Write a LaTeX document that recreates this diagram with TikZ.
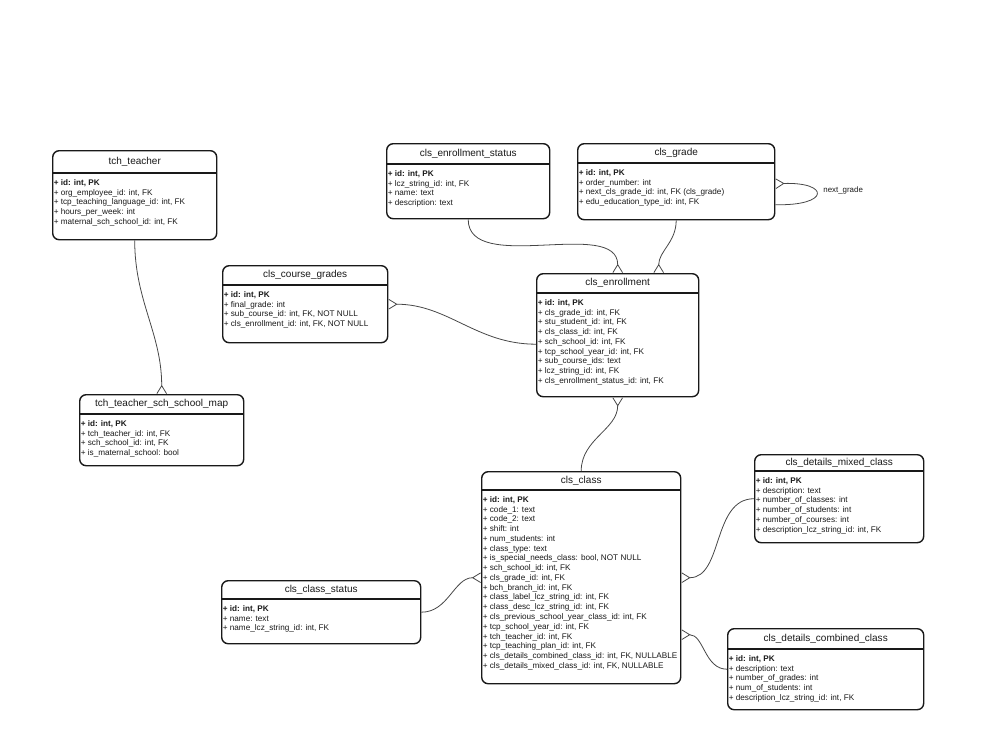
\documentclass[tikz,border=0pt]{standalone}
\usepackage{fontspec}
\setmainfont{Liberation Sans}
\usepackage{tikz}
\usetikzlibrary{calc,arrows.meta}
\definecolor{erink}{RGB}{25,25,25}
\definecolor{relgray}{RGB}{70,70,70}

% name, left, top, width, height, header height, title, rows
\newcommand{\erentity}[8]{%
  \node[entity, minimum width=#4*0.02cm, minimum height=#5*0.02cm] (#1) at (#2,#3) {};
  \draw[sepline] ($(#1.north west)+(0,#6)$) -- ($(#1.north east)+(0,#6)$);
  \node[enttitle] (#1-title) at ($(#1.north)+(0,#6/2)$) {#7};
  \node[entrows] (#1-rows) at ($(#1.north west)+(1.5,#6+6)$) {#8};
}

\begin{document}
\begin{tikzpicture}[x=0.02cm, y=-0.02cm,
    entity/.style={draw=erink, line width=0.8pt, rounded corners=0.13cm,
                   anchor=north west, inner sep=0pt},
    sepline/.style={draw=erink, line width=0.6pt},
    enttitle/.style={font=\fontsize{5.7}{6.8}\selectfont, text=erink, inner sep=0pt},
    entrows/.style={font=\fontsize{4.65}{5.56}\selectfont, text=erink, align=left,
                    anchor=north west, inner sep=0pt},
    rel/.style={draw=relgray, line width=0.45pt},
    crow/.style={-{Straight Barb[reversed, length=4.5pt, width=5.5pt]}},
    crowstart/.style={{Straight Barb[reversed, length=4.5pt, width=5.5pt]}-}]
  \fill[white] (0,0) rectangle (1000,750);
  % teacher side
  \erentity{teacher}{52}{150}{164}{89}{23}{tch\_teacher}
    {\textbf{+ id: int, PK}\\+ org\_employee\_id: int, FK\\+ tcp\_teaching\_language\_id: int, FK\\
     + hours\_per\_week: int\\+ maternal\_sch\_school\_id: int, FK}
  \erentity{map}{79}{394}{164}{71}{20}{tch\_teacher\_sch\_school\_map}
    {\textbf{+ id: int, PK}\\+ tch\_teacher\_id: int, FK\\+ sch\_school\_id: int, FK\\
     + is\_maternal\_school: bool}
  % enrollment
  \erentity{enrstatus}{386}{143}{163}{75}{21}{cls\_enrollment\_status}
    {\textbf{+ id: int, PK}\\+ lcz\_string\_id: int, FK\\+ name: text\\+ description: text}
  \erentity{grade}{577}{143}{197}{76}{20}{cls\_grade}
    {\textbf{+ id: int, PK}\\+ order\_number: int\\+ next\_cls\_grade\_id: int, FK (cls\_grade)\\
     + edu\_education\_type\_id: int, FK}
  \erentity{course}{222}{265}{165}{77}{20}{cls\_course\_grades}
    {\textbf{+ id: int, PK}\\+ final\_grade: int\\+ sub\_course\_id: int, FK, NOT NULL\\
     + cls\_enrollment\_id: int, FK, NOT NULL}
  \erentity{enrollment}{536}{273}{162}{123}{20}{cls\_enrollment}
    {\textbf{+ id: int, PK}\\+ cls\_grade\_id: int, FK\\+ stu\_student\_id: int, FK\\
     + cls\_class\_id: int, FK\\+ sch\_school\_id: int, FK\\+ tcp\_school\_year\_id: int, FK\\
     + sub\_course\_ids: text\\+ lcz\_string\_id: int, FK\\+ cls\_enrollment\_status\_id: int, FK}
  % class
  \erentity{class}{481}{471}{199}{212}{19}{cls\_class}
    {\textbf{+ id: int, PK}\\+ code\_1: text\\+ code\_2: text\\+ shift: int\\+ num\_students: int\\
     + class\_type: text\\+ is\_special\_needs\_class: bool, NOT NULL\\+ sch\_school\_id: int, FK\\
     + cls\_grade\_id: int, FK\\+ bch\_branch\_id: int, FK\\+ class\_label\_lcz\_string\_id: int, FK\\
     + class\_desc\_lcz\_string\_id: int, FK\\+ cls\_previous\_school\_year\_class\_id: int, FK\\
     + tcp\_school\_year\_id: int, FK\\+ tch\_teacher\_id: int, FK\\+ tcp\_teaching\_plan\_id: int, FK\\
     + cls\_details\_combined\_class\_id: int, FK, NULLABLE\\
     + cls\_details\_mixed\_class\_id: int, FK, NULLABLE}
  \erentity{mixed}{754}{454}{169}{88}{17}{cls\_details\_mixed\_class}
    {\textbf{+ id: int, PK}\\+ description: text\\+ number\_of\_classes: int\\
     + number\_of\_students: int\\+ number\_of\_courses: int\\+ description\_lcz\_string\_id: int, FK}
  \erentity{status}{221}{580}{199}{63}{19}{cls\_class\_status}
    {\textbf{+ id: int, PK}\\+ name: text\\+ name\_lcz\_string\_id: int, FK}
  \erentity{combined}{727}{628}{196}{81}{21}{cls\_details\_combined\_class}
    {\textbf{+ id: int, PK}\\+ description: text\\+ number\_of\_grades: int\\
     + num\_of\_students: int\\+ description\_lcz\_string\_id: int, FK}
  % relations
  \draw[rel, crow] (teacher.south) to[out=-90, in=90] (map.north);
  \draw[rel, crow] (enrstatus.south) to[out=-90, in=90, looseness=0.9] (enrollment.north);
  \draw[rel, crow] (grade.south) to[out=-90, in=90] ($(enrollment.north)+(41,0)$);
  \draw[rel, crowstart] ($(grade.east)+(0,2)$) .. controls (830,182) and (830,206)
    .. ($(grade.east)+(0,23)$);
  \node[entrows, font=\fontsize{4.5}{5.4}\selectfont, anchor=west] (nextgrade) at (823,190) {next\_grade};
  \draw[rel, crowstart] (course.east) to[out=0, in=180] ($(enrollment.west)+(0,9)$);
  \draw[rel, crowstart] (enrollment.south) to[out=-90, in=90] (class.north);
  \draw[rel, crow] (status.east) to[out=0, in=180] (class.west);
  \draw[rel, crowstart] (class.east) to[out=0, in=180] (mixed.west);
  \draw[rel, crowstart] ($(class.east)+(0,57)$) to[out=0, in=180] (combined.west);
\end{tikzpicture}
\end{document}
